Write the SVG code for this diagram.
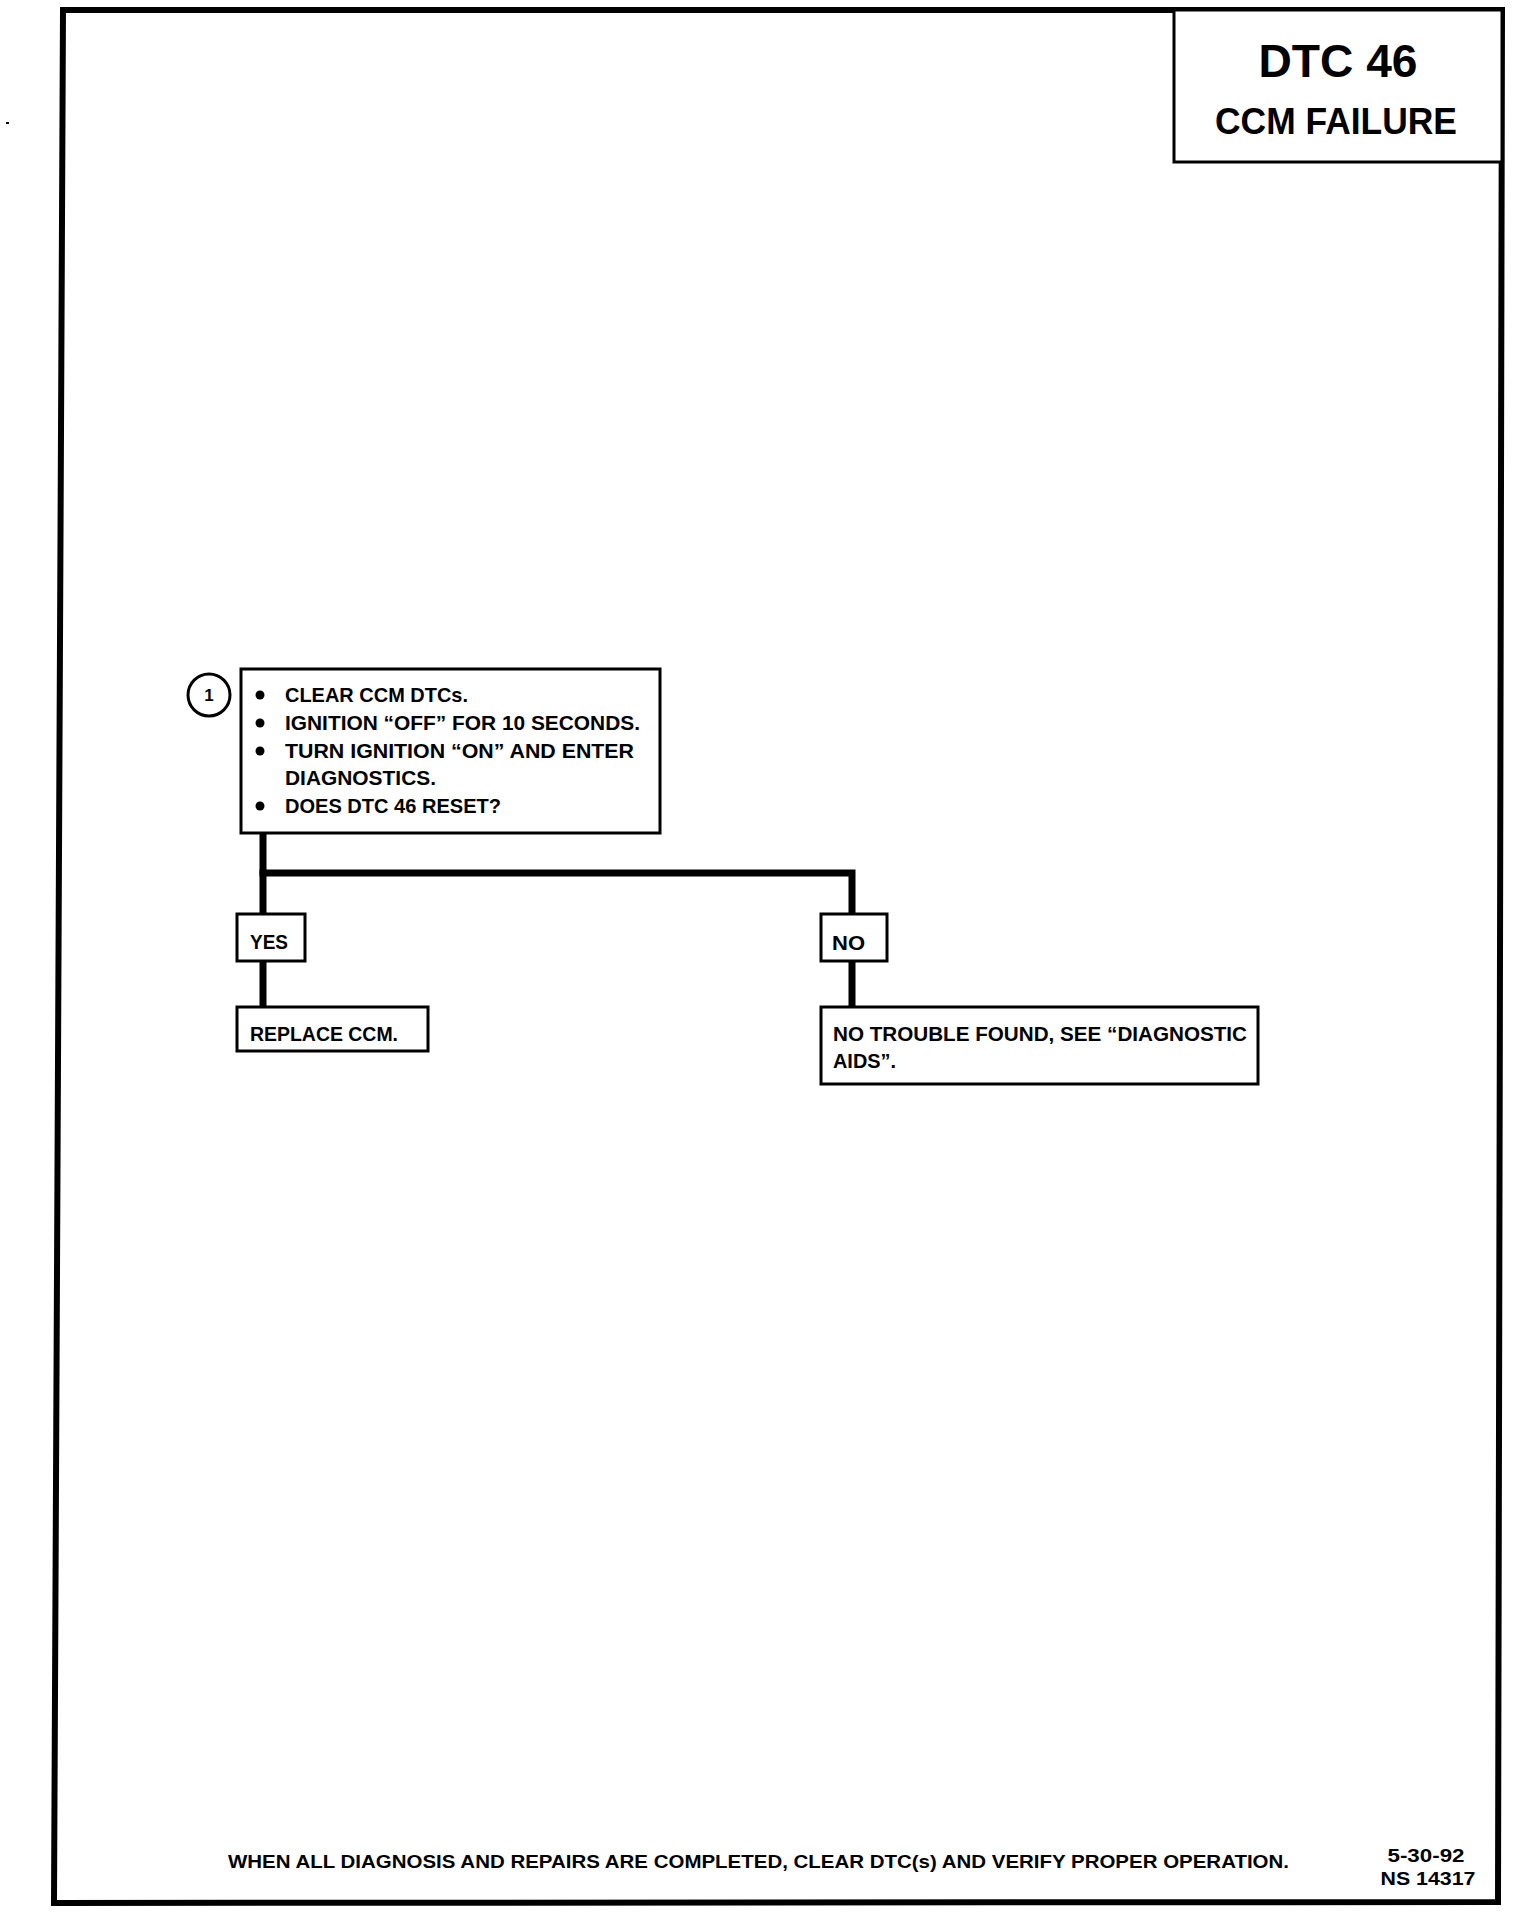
<svg xmlns="http://www.w3.org/2000/svg" width="1520" height="1912" viewBox="0 0 1520 1912">
<style>
  .frame { fill: none; stroke: #000; stroke-width: 6; stroke-linejoin: miter; }
  .box { fill: #fff; stroke: #000; stroke-width: 3; }
  .conn { fill: none; stroke: #000; stroke-width: 7; stroke-linecap: square; stroke-linejoin: miter; }
  .t { font-family: "Liberation Sans", Arial, sans-serif; font-weight: bold; fill: #000; }
  .body { font-size: 21px; }
  .foot { font-size: 18px; }
</style>
<rect width="1520" height="1912" fill="#fff"/>
<path class="frame" d="M63,10 L1502,10 L1498,1902 L54,1903 Z"/>
<rect x="6" y="122" width="3" height="2" fill="#000"/>

<g id="title">
  <rect class="box" x="1174" y="10" width="328" height="152"/>
  <text class="t" x="1338" y="77" font-size="46" text-anchor="middle" textLength="159" lengthAdjust="spacingAndGlyphs">DTC 46</text>
  <text class="t" x="1336" y="134" font-size="37" text-anchor="middle" textLength="242" lengthAdjust="spacingAndGlyphs">CCM FAILURE</text>
</g>

<g id="connectors">
  <path class="conn" d="M263,834 L263,873 L852,873 L852,914"/>
  <path class="conn" d="M263,873 L263,914"/>
  <path class="conn" d="M263,961 L263,1007"/>
  <path class="conn" d="M852,961 L852,1007"/>
</g>

<g id="step1-marker">
  <circle cx="209" cy="695" r="21" fill="#fff" stroke="#000" stroke-width="3"/>
  <text class="t" x="209" y="701" font-size="17" text-anchor="middle">1</text>
</g>

<g id="step1">
  <rect class="box" x="241" y="669" width="419" height="164"/>
  <circle cx="260" cy="695" r="4.5"/>
  <circle cx="260" cy="723" r="4.5"/>
  <circle cx="260" cy="751" r="4.5"/>
  <circle cx="260" cy="806" r="4.5"/>
  <text class="t body" x="285" y="702" textLength="183" lengthAdjust="spacingAndGlyphs">CLEAR CCM DTCs.</text>
  <text class="t body" x="285" y="730" textLength="355" lengthAdjust="spacingAndGlyphs">IGNITION “OFF” FOR 10 SECONDS.</text>
  <text class="t body" x="285" y="758" textLength="349" lengthAdjust="spacingAndGlyphs">TURN IGNITION “ON” AND ENTER</text>
  <text class="t body" x="285" y="785" textLength="151" lengthAdjust="spacingAndGlyphs">DIAGNOSTICS.</text>
  <text class="t body" x="285" y="813" textLength="216" lengthAdjust="spacingAndGlyphs">DOES DTC 46 RESET?</text>
</g>

<g id="yes">
  <rect class="box" x="237" y="914" width="68" height="47"/>
  <text class="t body" x="250" y="949" textLength="38" lengthAdjust="spacingAndGlyphs">YES</text>
</g>

<g id="no">
  <rect class="box" x="821" y="914" width="66" height="47"/>
  <text class="t body" x="832" y="950" textLength="33" lengthAdjust="spacingAndGlyphs">NO</text>
</g>

<g id="replace-ccm">
  <rect class="box" x="237" y="1007" width="191" height="44"/>
  <text class="t body" x="250" y="1041" textLength="148" lengthAdjust="spacingAndGlyphs">REPLACE CCM.</text>
</g>

<g id="no-trouble">
  <rect class="box" x="821" y="1007" width="437" height="77"/>
  <text class="t body" x="833" y="1041" textLength="414" lengthAdjust="spacingAndGlyphs">NO TROUBLE FOUND, SEE “DIAGNOSTIC</text>
  <text class="t body" x="833" y="1068" textLength="63" lengthAdjust="spacingAndGlyphs">AIDS”.</text>
</g>

<g id="footer">
  <text class="t foot" x="228" y="1868" textLength="1061" lengthAdjust="spacingAndGlyphs">WHEN ALL DIAGNOSIS AND REPAIRS ARE COMPLETED, CLEAR DTC(s) AND VERIFY PROPER OPERATION.</text>
  <text class="t foot" x="1426" y="1862" font-size="19" text-anchor="middle" textLength="77" lengthAdjust="spacingAndGlyphs">5-30-92</text>
  <text class="t foot" x="1428" y="1885" font-size="19" text-anchor="middle" textLength="95" lengthAdjust="spacingAndGlyphs">NS 14317</text>
</g>
</svg>
